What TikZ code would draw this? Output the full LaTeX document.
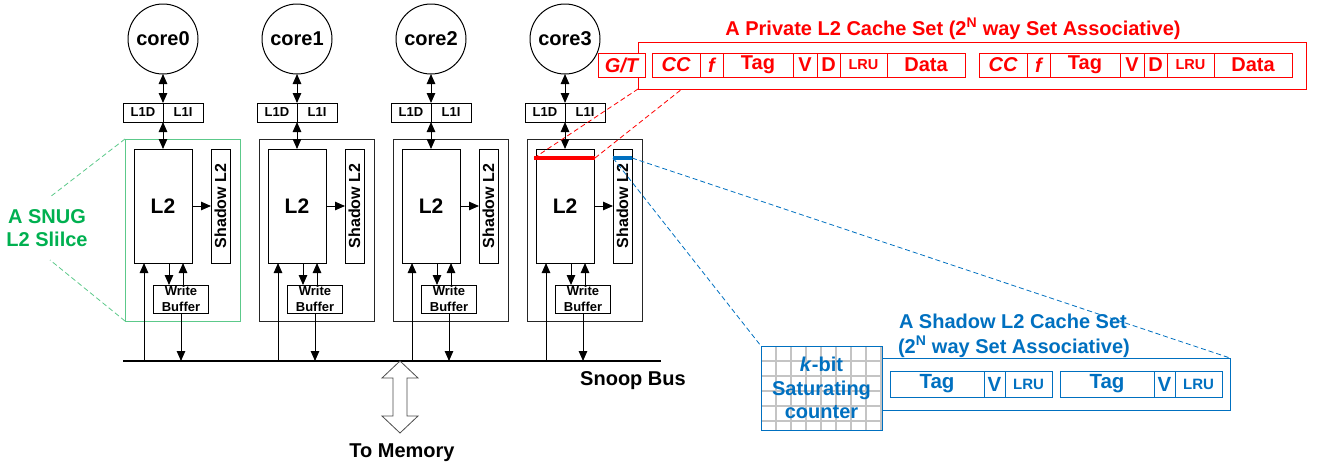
\documentclass[tikz,border=0pt]{standalone}
\usepackage{fontspec}
\setmainfont{Liberation Sans}
\usetikzlibrary{arrows.meta,calc,backgrounds}
\definecolor{cred}{HTML}{FF0000}
\definecolor{cblue}{HTML}{0070C0}
\definecolor{cgreen}{HTML}{00B050}
\definecolor{cgline}{HTML}{5CC98A}
\definecolor{cgrid}{HTML}{C4C4C4}
\newcommand\fsz[1]{\fontsize{#1}{#1}\selectfont}
\begin{document}
\begin{tikzpicture}[x=1pt,y=-1pt,line width=1pt,
  >={Triangle[length=10pt,width=8.5pt]},
  every node/.style={font=\bfseries,inner sep=0pt,outer sep=0pt},
  box/.style={draw,rectangle,inner sep=0pt,outer sep=0pt},
  corec/.style={draw,circle,minimum size=70pt,font=\bfseries\fsz{20}},
  l1box/.style={box,minimum width=40pt,minimum height=19pt,font=\bfseries\fsz{13}},
  slicebox/.style={box,minimum width=115pt,minimum height=182pt},
  l2box/.style={box,minimum width=58pt,minimum height=114pt,font=\bfseries\fsz{21}},
  shbox/.style={box,minimum width=19pt,minimum height=114pt},
  wbbox/.style={box,minimum width=55pt,minimum height=28pt,align=center,font=\bfseries\fontsize{13}{16}\selectfont},
  rfld/.style={box,draw=cred,text=cred,minimum height=24pt,anchor=west,font=\bfseries\fsz{20}},
  bfld/.style={box,draw=cblue,text=cblue,minimum height=26pt,anchor=west,font=\bfseries\fsz{20.5}},
  rdash/.style={cred,line width=0.8pt,dash pattern=on 5pt off 3pt},
  bdash/.style={cblue,line width=0.8pt,dash pattern=on 5pt off 3pt},
  gdash/.style={cgline,line width=0.8pt,dash pattern=on 5pt off 3pt},
  big/.style={font=\bfseries\fsz{20}}]
\useasboundingbox (0,0) rectangle (1317,469);

% snoop bus
\coordinate (busL) at (123,361);
\coordinate (busR) at (661,361);
\draw[line width=2.5pt] (busL) -- (busR);
\node[big,anchor=center] (snoop) at (633,381) {Snoop Bus};

% cores
\foreach \i/\col in {0/cgline,1/black!85,2/black!85,3/black!85}{
  \pgfmathsetmacro\cx{163+134*\i}
  \node[corec] (c\i) at (\cx,39) {core\i};
  \node[l1box] (l1d\i) at (\cx-20,112.5) {L1D};
  \node[l1box] (l1i\i) at (\cx+20,112.5) {L1I};
  \node[slicebox,draw=\col] (sl\i) at (\cx+19.5,230) {};
  \node[l2box] (l2\i) at (\cx,206) {L2};
  \node[shbox] (sh\i) at (\cx+57.5,206) {};
  \node[rotate=90,font=\bfseries\fsz{16}] (sht\i) at (sh\i) {Shadow L2};
  \node[wbbox] (wb\i) at (\cx+18,299) {Write\\Buffer};
  \draw[<->] (c\i.south) -- (l1d\i.north east);
  \draw[<->] (l1d\i.south east) -- (l2\i.north);
  \draw[->] (l2\i.east) -- (sh\i.west);
  \coordinate (ua\i) at ($(l2\i.south)+(-19,0)$);
  \draw[->] (ua\i |- busL) -- (ua\i);
  \coordinate (da\i) at ($(l2\i.south)+(6,0)$);
  \draw[->] (da\i) -- (da\i |- wb\i.north);
  \coordinate (ub\i) at ($(wb\i.north)+(2,0)$);
  \draw[->] (ub\i) -- (ub\i |- l2\i.south);
  \draw[->] (wb\i.south) -- (wb\i.south |- busL);
}

% memory arrow
\coordinate (mem) at (400,361);
\draw[draw=black!70,fill=white,line width=0.8pt]
  (mem) -- ++(18,17) -- ++(-11,0) -- ++(0,38) -- ++(11,0) -- ++(-18,17)
  -- ++(-18,-17) -- ++(11,0) -- ++(0,-38) -- ++(-11,0) -- cycle;
\node[big] (tomem) at (402,453) {To Memory};

% green SNUG label
\node[big,text=cgreen,align=center,font=\bfseries\fontsize{20}{23}\selectfont] (snug) at (47,228) {A SNUG\\L2 Slilce};
\coordinate (g1) at (50,197);
\coordinate (g2) at (50,260);
\draw[gdash] (sl0.north west) -- (g1);
\draw[gdash] (sl0.south west) -- (g2);

% red private set
\node[big,text=cred] (rtitle) at (953,29) {A Private L2 Cache Set (2\textsuperscript{N} way Set Associative)};
\node[box,draw=cred,minimum width=668pt,minimum height=47pt] (rset) at (972,65.5) {};
\node[rfld,fill=white,minimum width=47pt] (gt) at (598,65) {\itshape G/T};
\foreach \s/\x in {p/652,q/979}{
  \node[rfld,minimum width=48pt] (\s1) at (\x,65) {\itshape CC};
  \node[rfld,minimum width=23pt] (\s2) at (\s1.east) {\itshape f};
  \node[rfld,minimum width=70pt] (\s3) at (\s2.east) {Tag};
  \node[rfld,minimum width=24pt] (\s4) at (\s3.east) {V};
  \node[rfld,minimum width=23pt] (\s5) at (\s4.east) {D};
  \node[rfld,minimum width=47pt,font=\bfseries\fsz{14.5}] (\s6) at (\s5.east) {LRU};
  \node[rfld,minimum width=78pt] (\s7) at (\s6.east) {Data};
}
\coordinate (rb1) at ($(l23.north west)+(-2,9)$);
\coordinate (rb2) at ($(l23.north east)+(1,9)$);
\draw[cred,line width=4pt] (rb1) -- (rb2);
\coordinate (rc2) at ($(rset.south west)+(44,0)$);
\draw[rdash] (rb1) -- (rset.south west);
\draw[rdash] (rb2) -- (rc2);

% blue shadow set
\node[big,text=cblue,anchor=west] (bt1) at (899,321) {A Shadow L2 Cache Set};
\node[big,text=cblue,anchor=west] (bt2) at (898,347) {(2\textsuperscript{N} way Set Associative)};
\node[box,draw=cblue,minimum width=348pt,minimum height=52pt] (bset) at (1056,384) {};
\node[box,draw=cblue,text=cblue,minimum width=121pt,minimum height=84pt,align=center,font=\bfseries\fontsize{20}{23.5}\selectfont] (kbit) at (821.5,388) {\textit{k}-bit\\Saturating\\counter};
\begin{scope}[on background layer]
  \clip (kbit.north west) rectangle (kbit.south east);
  \draw[cgrid,line width=1.5pt,shift={(kbit.north west)}] (0,0) grid[step=15pt] (125,90);
\end{scope}
\foreach \s/\x in {u/890,w/1060}{
  \node[bfld,minimum width=94pt] (\s1) at (\x,384) {Tag};
  \node[bfld,minimum width=21pt] (\s2) at (\s1.east) {V};
  \node[bfld,minimum width=47pt,font=\bfseries\fsz{15}] (\s3) at (\s2.east) {LRU};
}
\coordinate (bb1) at ($(sh3.north west)+(0,9)$);
\coordinate (bb2) at ($(sh3.north east)+(0,9)$);
\draw[cblue,line width=4pt] (bb1) -- (bb2);
\draw[bdash] (bb2) -- (bset.north east);
\draw[bdash] (bb1) -- (kbit.north west);
\end{tikzpicture}
\end{document}
